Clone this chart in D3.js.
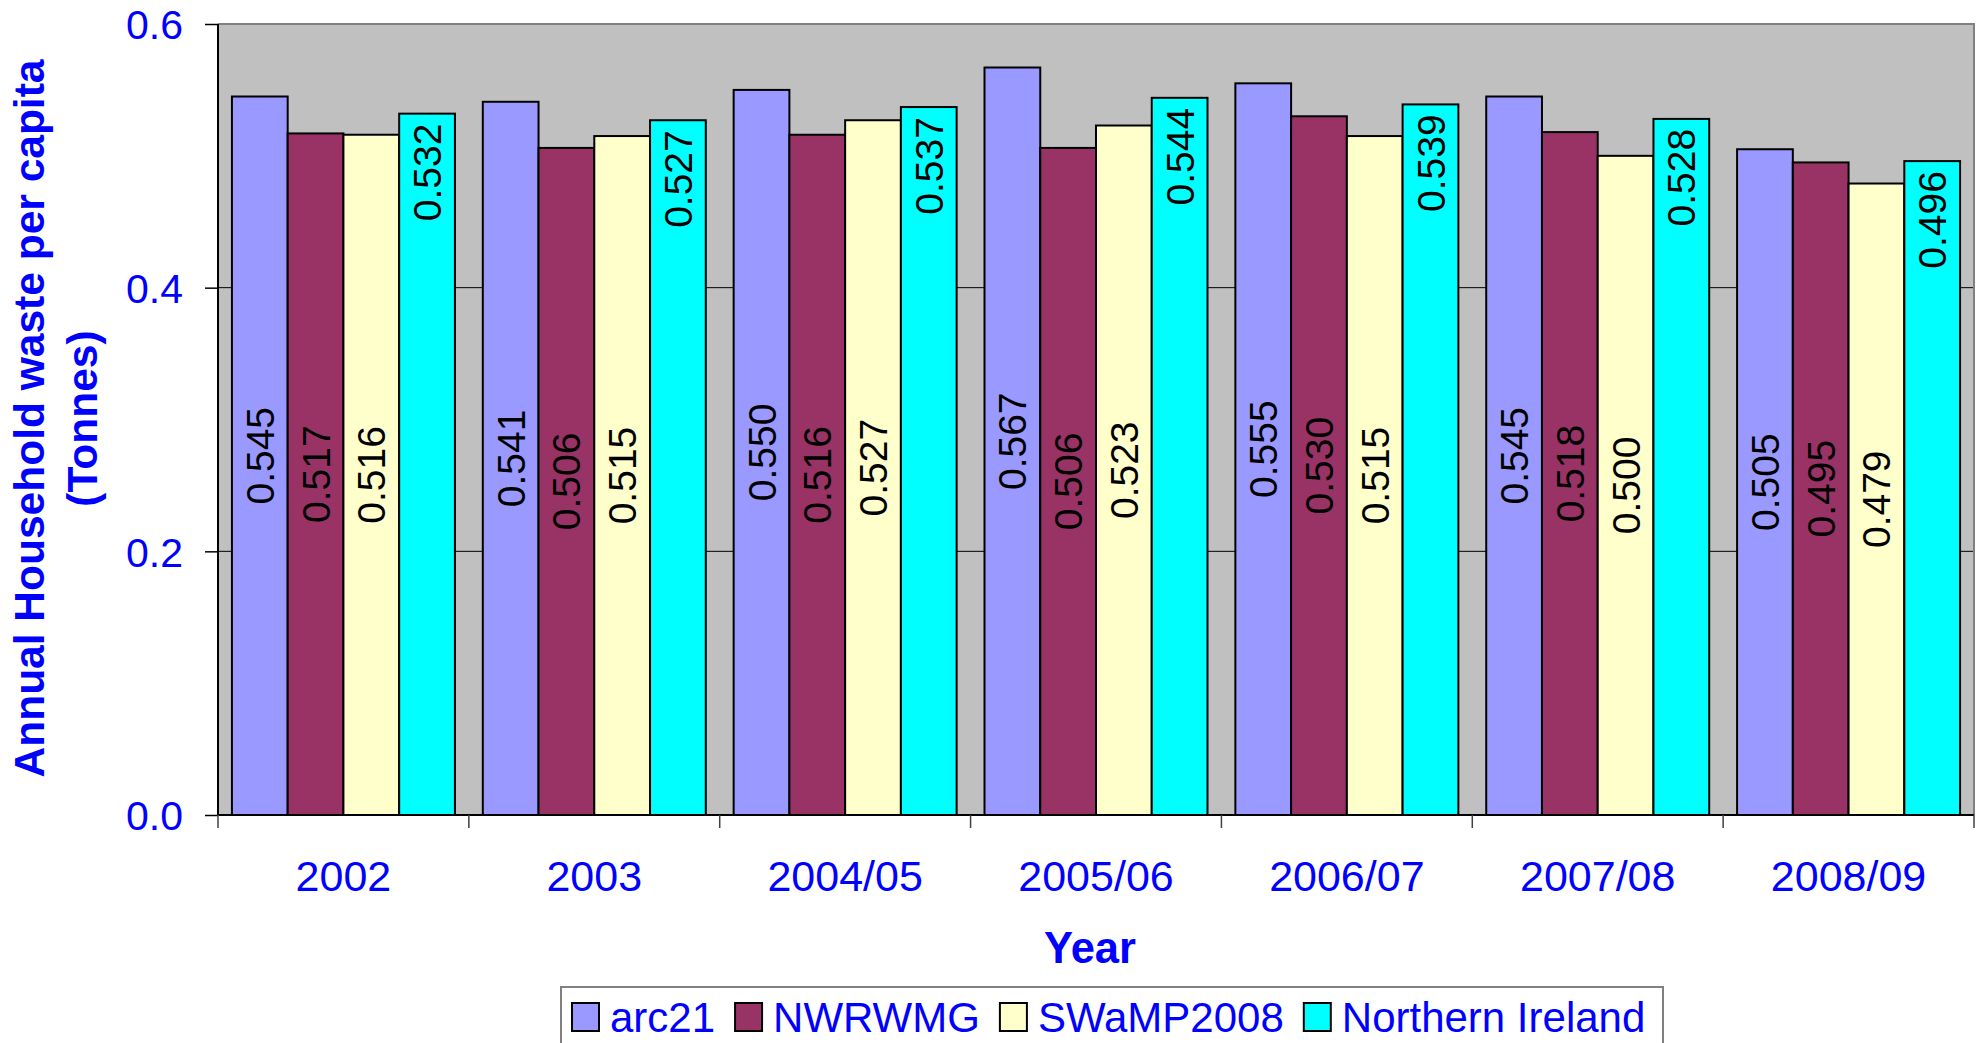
<!DOCTYPE html>
<html>
<head>
<meta charset="utf-8">
<script src="https://cdn.jsdelivr.net/npm/d3@7"></script>
<style>
  html, body { margin: 0; padding: 0; background: #fff; }
  svg { display: block; font-family: "Liberation Sans", Arial, sans-serif; }
</style>
</head>
<body>
<svg id="chart" width="1979" height="1043"></svg>
<script>
const categories = ["2002", "2003", "2004/05", "2005/06", "2006/07", "2007/08", "2008/09"];
const seriesNames = ["arc21", "NWRWMG", "SWaMP2008", "Northern Ireland"];
const arc21 = [0.545, 0.541, 0.550, 0.567, 0.555, 0.545, 0.505];
const nwrwmg = [0.517, 0.506, 0.516, 0.506, 0.530, 0.518, 0.495];
const swamp2008 = [0.516, 0.515, 0.527, 0.523, 0.515, 0.500, 0.479];
const northernIreland = [0.532, 0.527, 0.537, 0.544, 0.539, 0.528, 0.496];
const yTicks = [0.0, 0.2, 0.4, 0.6];
const colors = ["#9999FF", "#993366", "#FFFFCC", "#00FFFF"];

const seriesValues = [arc21, nwrwmg, swamp2008, northernIreland];

const svg = d3.select("#chart");
const plot = { left: 218, right: 1974, top: 24, bottom: 815 };
const blue = "#0000FF";

const x0 = d3.scaleBand().domain(categories).range([plot.left, plot.right]).paddingInner(0).paddingOuter(0);
const x1 = d3.scaleBand().domain(seriesNames).range([0, x0.bandwidth()]).paddingInner(0).paddingOuter(0.25);
const y = d3.scaleLinear().domain([0, 0.6]).range([plot.bottom, plot.top]);

// plot background
svg.append("rect")
  .attr("x", plot.left).attr("y", plot.top)
  .attr("width", plot.right - plot.left).attr("height", plot.bottom - plot.top)
  .attr("fill", "#C0C0C0");

// gridlines
svg.append("g").selectAll("line")
  .data(yTicks.filter(t => t > 0 && t < 0.6))
  .join("line")
  .attr("x1", plot.left).attr("x2", plot.right)
  .attr("y1", d => y(d)).attr("y2", d => y(d))
  .attr("stroke", "#000").attr("stroke-width", 1);

// plot border (top / right)
svg.append("path")
  .attr("d", `M${plot.left},${y(0.6)}H${plot.right}V${plot.bottom}`)
  .attr("fill", "none").attr("stroke", "#808080").attr("stroke-width", 2);

// bars
const data = [];
categories.forEach((c, i) => {
  seriesNames.forEach((s, j) => {
    data.push({ cat: c, series: s, si: j, value: seriesValues[j][i] });
  });
});

const barG = svg.append("g");
barG.selectAll("rect")
  .data(data)
  .join("rect")
  .attr("x", d => x0(d.cat) + x1(d.series))
  .attr("y", d => y(d.value))
  .attr("width", x1.bandwidth())
  .attr("height", d => y(0) - y(d.value))
  .attr("fill", d => colors[d.si])
  .attr("stroke", "#000")
  .attr("stroke-width", 2);

// data labels
barG.selectAll("text")
  .data(data)
  .join("text")
  .attr("transform", d => {
    const cx = x0(d.cat) + x1(d.series) + x1.bandwidth() / 2;
    const cy = d.si === 3 ? y(d.value) + 10 : (y(0) + y(d.value)) / 2;
    return `translate(${cx},${cy}) rotate(-90)`;
  })
  .attr("text-anchor", d => d.si === 3 ? "end" : "middle")
  .attr("dy", "0.36em")
  .attr("font-size", 39)
  .attr("fill", "#000")
  .text(d => d3.format(".3f")(d.value));

// y axis
const yAxis = d3.axisLeft(y).tickValues(yTicks).tickFormat(d3.format(".1f")).tickSize(13).tickPadding(22);
const yg = svg.append("g").attr("transform", `translate(${plot.left},0)`).call(yAxis);
yg.select(".domain").attr("stroke", "#000").attr("stroke-width", 2).attr("d", `M0,${plot.top}V${plot.bottom}`);
yg.selectAll(".tick line").attr("stroke", "#000").attr("stroke-width", 1.5);
yg.selectAll(".tick text").attr("fill", blue).attr("font-size", 41).attr("font-family", "Liberation Sans, Arial, sans-serif").attr("dy", "0.36em");

// x axis
const xg = svg.append("g").attr("transform", `translate(0,${plot.bottom})`);
xg.append("line")
  .attr("x1", plot.left).attr("x2", plot.right)
  .attr("stroke", "#000").attr("stroke-width", 2);
const boundaries = categories.map(c => x0(c)).concat([x0(categories[categories.length - 1]) + x0.bandwidth()]);
xg.selectAll("line.tk")
  .data(boundaries)
  .join("line")
  .attr("class", "tk")
  .attr("x1", d => d).attr("x2", d => d)
  .attr("y1", 0).attr("y2", 13)
  .attr("stroke", "#404040").attr("stroke-width", 1.5);
xg.selectAll("text")
  .data(categories)
  .join("text")
  .attr("x", d => x0(d) + x0.bandwidth() / 2)
  .attr("y", 891 - plot.bottom)
  .attr("text-anchor", "middle")
  .attr("font-size", 43)
  .attr("fill", blue)
  .text(d => d);

// axis titles
svg.append("text")
  .attr("x", (plot.left + plot.right) / 2 - 6).attr("y", 963)
  .attr("text-anchor", "middle")
  .attr("font-size", 43.5).attr("font-weight", "bold")
  .attr("fill", blue)
  .text("Year");

const yTitle = svg.append("text")
  .attr("transform", `translate(44,${(plot.top + plot.bottom) / 2 - 1}) rotate(-90)`)
  .attr("text-anchor", "middle")
  .attr("font-size", 42.5).attr("font-weight", "bold")
  .attr("fill", blue);
yTitle.append("tspan").attr("x", 0).attr("y", 0).text("Annual Household waste per capita");
yTitle.append("tspan").attr("x", 0).attr("y", 53).text("(Tonnes)");

// legend
const legend = svg.append("g");
legend.append("rect")
  .attr("x", 561).attr("y", 987)
  .attr("width", 1663 - 561).attr("height", 80)
  .attr("fill", "#fff").attr("stroke", "#808080").attr("stroke-width", 2);
let lx = 572;
seriesNames.forEach((s, j) => {
  legend.append("rect")
    .attr("x", lx).attr("y", 1003)
    .attr("width", 27).attr("height", 28)
    .attr("fill", colors[j]).attr("stroke", "#000").attr("stroke-width", 2);
  const t = legend.append("text")
    .attr("x", lx + 38).attr("y", 1032)
    .attr("font-size", 42).attr("fill", blue)
    .text(s);
  const w = t.node().getComputedTextLength();
  lx = lx + 38 + w + 20;
});
</script>
</body>
</html>
